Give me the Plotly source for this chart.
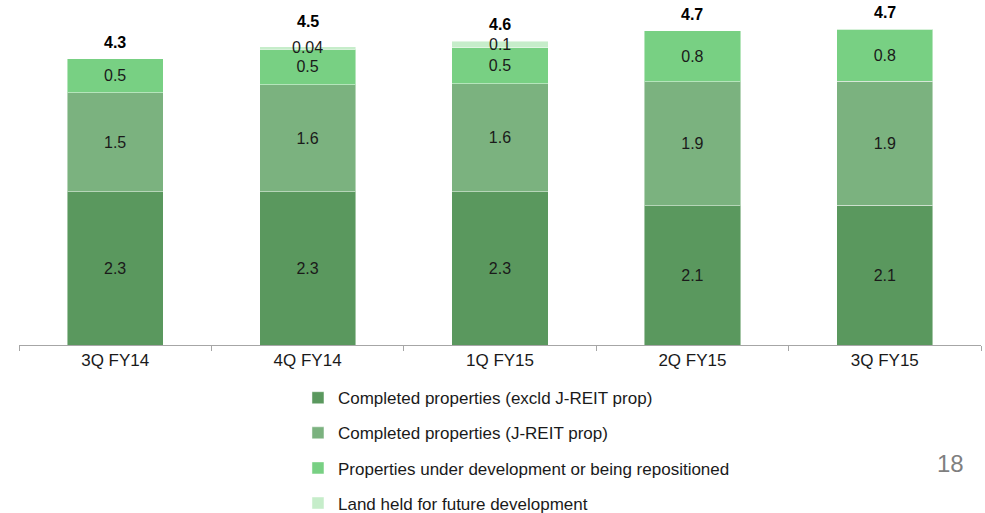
import plotly.graph_objects as go

# Quarterly property portfolio breakdown (stacked)
quarters = ["3Q FY14", "4Q FY14", "1Q FY15", "2Q FY15", "3Q FY15"]
completed_excl_jreit = [2.30, 2.30, 2.30, 2.09, 2.10]
completed_jreit = [1.49, 1.61, 1.62, 1.86, 1.86]
under_development = [0.51, 0.53, 0.54, 0.77, 0.78]
land_held = [0.0, 0.04, 0.10, 0.0, 0.0]

series_names = [
    "Completed properties (excld J-REIT prop)",
    "Completed properties (J-REIT prop)",
    "Properties under development or being repositioned",
    "Land held for future development",
]
series_values = [completed_excl_jreit, completed_jreit, under_development, land_held]
series_colors = ["#5A985E", "#7BB27F", "#78D083", "#C6EDCA"]

FONT = "Liberation Sans, Arial, sans-serif"
TEXT_COLOR = "#1a1a1a"

fig = go.Figure()
for i, (name, vals, color) in enumerate(zip(series_names, series_values, series_colors)):
    thin = i == 3
    fig.add_trace(go.Bar(
        x=quarters,
        y=vals,
        name=name,
        legendgroup=f"g{i}",
        marker=dict(color=color, line=dict(color="rgba(255,255,255,0.45)", width=1)),
        text=None if thin else [f"{v:.1f}" for v in vals],
        textposition="none" if thin else "inside",
        insidetextanchor="middle",
        textangle=0,
        textfont=dict(family=FONT, size=16, color=TEXT_COLOR),
        cliponaxis=False,
        hoverinfo="skip",
    ))

# Labels for the thin top segment are placed as annotations so they stay legible
for k, q in enumerate(quarters):
    if land_held[k] > 0:
        base = completed_excl_jreit[k] + completed_jreit[k] + under_development[k]
        fig.add_annotation(
            x=q, y=base + land_held[k] / 2, text=f"{land_held[k]:g}",
            showarrow=False, yanchor="middle",
            font=dict(family=FONT, size=16, color=TEXT_COLOR),
        )

# Totals above each stack
totals = [sum(v[k] for v in series_values) for k in range(len(quarters))]
for k, q in enumerate(quarters):
    # lift the total when a thin top segment's label spills above the bar
    extra = 9 if 0 < land_held[k] < 0.06 else 0
    fig.add_annotation(
        x=q, y=totals[k], text=f"<b>{totals[k]:.1f}</b>",
        showarrow=False, yanchor="bottom", yshift=6 + extra,
        font=dict(family=FONT, size=16, color="#000000"),
    )

# Page number
fig.add_annotation(
    xref="paper", yref="paper", x=0.984, y=-0.355, xanchor="right", yanchor="middle",
    text="18", showarrow=False,
    font=dict(family=FONT, size=24, color="#7F7F7F"),
)

fig.update_layout(
    width=985, height=513,
    margin=dict(l=19, r=4, t=10, b=168, autoexpand=False),
    barmode="stack",
    bargap=0.5,
    plot_bgcolor="white",
    paper_bgcolor="white",
    font=dict(family=FONT, size=17, color=TEXT_COLOR),
    showlegend=True,
    legend=dict(
        orientation="v",
        x=0.29, xanchor="left",
        y=-0.105, yanchor="top",
        traceorder="grouped",
        tracegroupgap=10,
        font=dict(family=FONT, size=17, color=TEXT_COLOR),
        bgcolor="rgba(0,0,0,0)",
    ),
    xaxis=dict(
        type="category",
        showline=True, linecolor="#A6A6A6", linewidth=1,
        ticks="outside", tickson="boundaries", ticklen=5, tickcolor="#A6A6A6",
        tickfont=dict(family=FONT, size=17, color=TEXT_COLOR),
        showgrid=False,
    ),
    yaxis=dict(
        range=[0, 5.03],
        visible=False,
        showgrid=False,
        zeroline=False,
    ),
)

fig.write_html("out.html")
